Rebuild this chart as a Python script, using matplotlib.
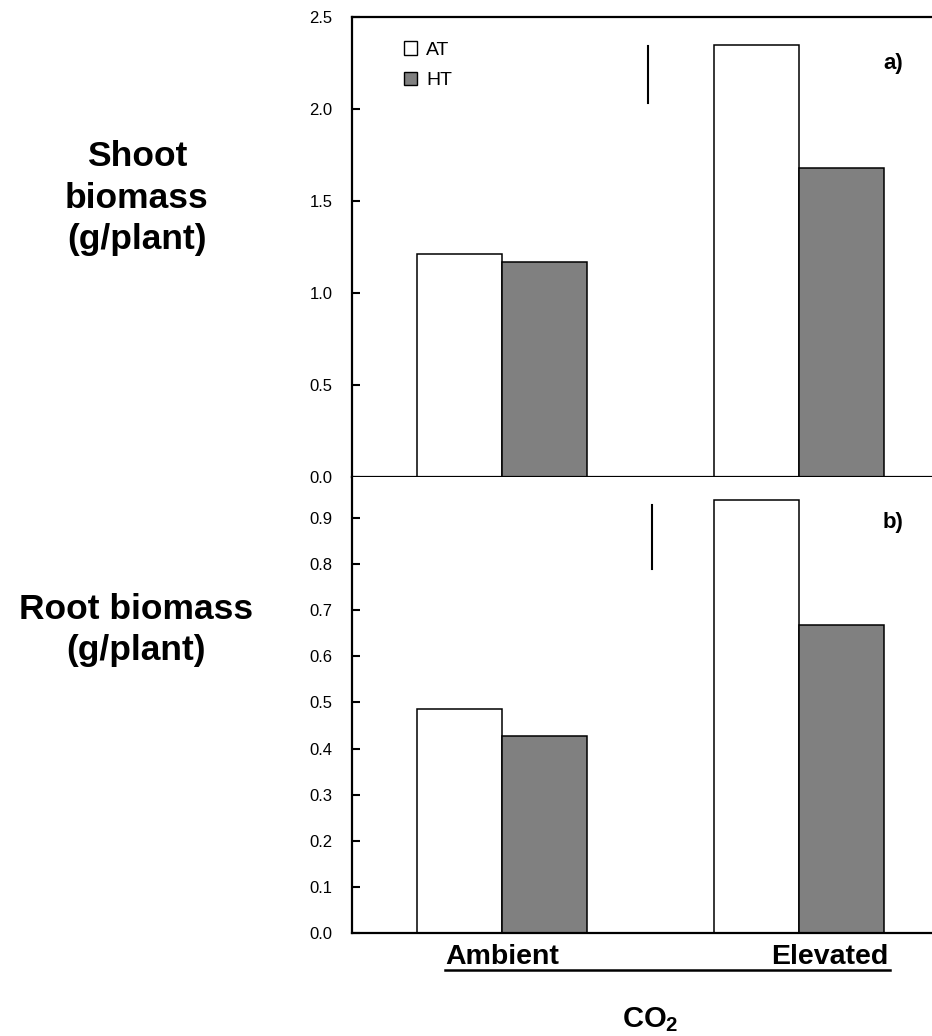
import matplotlib
matplotlib.use("Agg")
import matplotlib.pyplot as plt
import numpy as np
from matplotlib.patches import Patch
from matplotlib.lines import Line2D

plt.rcParams['font.family'] = ['Liberation Sans', 'DejaVu Sans']
plt.rcParams['mathtext.fontset'] = 'custom'
plt.rcParams['mathtext.rm'] = 'Liberation Sans'
plt.rcParams['mathtext.bf'] = 'Liberation Sans:bold'

# ---- data ----
categories = ["Ambient", "Elevated"]
series = ["AT", "HT"]
shoot_AT = [1.21, 2.35]
shoot_HT = [1.17, 1.68]
root_AT = [0.485, 0.94]
root_HT = [0.427, 0.669]
shoot_lsd = [2.03, 2.34]   # vertical bar (low, high)
root_lsd = [0.789, 0.928]
shoot_ticks = [0.0, 0.5, 1.0, 1.5, 2.0, 2.5]
root_ticks = [0.0, 0.1, 0.2, 0.3, 0.4, 0.5, 0.6, 0.7, 0.8, 0.9]
colors = ["white", "#808080"]

W, H = 932, 1036
fig = plt.figure(figsize=(W / 100, H / 100), dpi=100)

left = 352 / W
ax1 = fig.add_axes([left, 1 - 477 / H, 1 - left, (477 - 17) / H])
ax2 = fig.add_axes([left, 1 - 933 / H, 1 - left, (933 - 477) / H])

x = np.arange(len(categories))
bw = 0.286
xlim = (-0.505, 1.448)

def style(ax, ticks, ylim):
    ax.set_xlim(*xlim)
    ax.set_ylim(*ylim)
    ax.set_yticks(ticks)
    ax.set_yticklabels([f"{t:.1f}" for t in ticks], fontsize=12)
    ax.tick_params(axis='y', direction='in', length=6, width=1.5, pad=14)
    ax.spines['right'].set_visible(False)
    for s in ['left', 'bottom', 'top']:
        ax.spines[s].set_linewidth(1.6)

for ax, at, ht in [(ax1, shoot_AT, shoot_HT), (ax2, root_AT, root_HT)]:
    ax.bar(x - bw / 2, at, bw, color=colors[0], edgecolor='black', linewidth=1.1, label=series[0])
    ax.bar(x + bw / 2, ht, bw, color=colors[1], edgecolor='black', linewidth=1.1, label=series[1])

style(ax1, shoot_ticks, (0, 2.5))
style(ax2, root_ticks, (0, 0.989))
ax2.spines['top'].set_visible(False)

ax1.set_xticks([])
ax2.set_xticks([])

# LSD-like vertical bars
ax1.plot([0.492, 0.492], shoot_lsd, color='black', lw=1.5)
ax2.plot([0.505, 0.505], root_lsd, color='black', lw=1.5)

# panel letters
ax1.text(0.95, 0.90, "a)", transform=ax1.transAxes, ha='right', va='center', fontsize=16, fontweight='bold')
ax2.text(0.95, 0.901, "b)", transform=ax2.transAxes, ha='right', va='center', fontsize=16, fontweight='bold')

# legend
handles = [Patch(facecolor=c, edgecolor='black', linewidth=1.0) for c in colors]
ax1.legend(handles, series, loc='upper left', bbox_to_anchor=(0.09, 0.947), frameon=False,
           fontsize=14, handlelength=0.68, handleheight=0.68, handletextpad=0.45,
           labelspacing=0.65, borderpad=0, borderaxespad=0)

# category labels below bottom panel
label_x = [0.0, 1.105]
for xi, cat in zip(label_x, categories):
    ax2.text(xi, -0.024, cat, transform=ax2.get_xaxis_transform(), ha='center', va='top',
             fontsize=20.5, fontweight='bold')
ax2.add_line(Line2D([(445 - 352) / 580, (890 - 352) / 580], [-0.082, -0.082],
                    transform=ax2.transAxes, color='black', lw=1.8, clip_on=False))

fig.text(650 / W, 1 - 1020 / H, r"$\mathbf{CO_2}$", ha='center', va='center', fontsize=21)

# y labels
fig.text(137 / W, 1 - 198 / H, "Shoot\nbiomass\n(g/plant)", ha='center', va='center',
         fontsize=25.5, fontweight='bold', linespacing=1.32)
fig.text(136 / W, 1 - 630 / H, "Root biomass\n(g/plant)", ha='center', va='center',
         fontsize=25.5, fontweight='bold', linespacing=1.32)

fig.savefig("out.png", dpi=100)
